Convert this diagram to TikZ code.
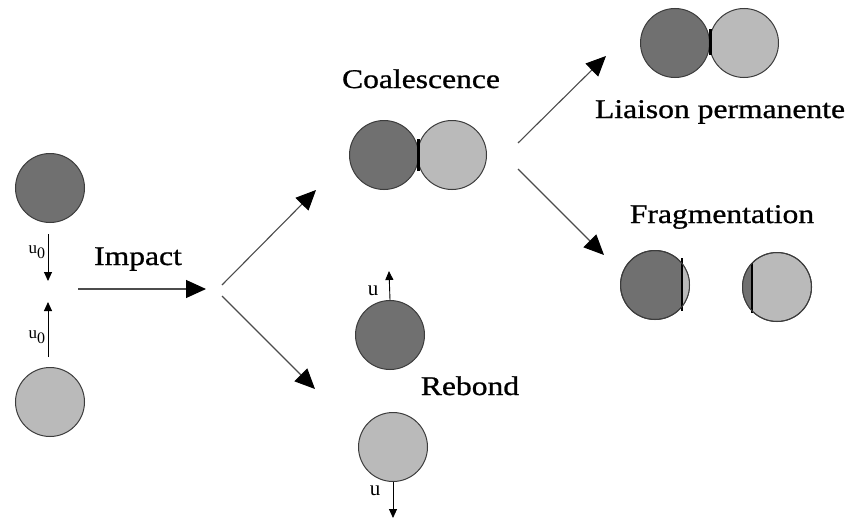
\documentclass[tikz,border=0pt]{standalone}
\usepackage{fontspec}
\setmainfont{Liberation Serif}
\newfontfamily\lblfont{Liberation Serif}[FakeBold=0.8]
\usetikzlibrary{arrows.meta}
\definecolor{dgray}{RGB}{112,112,112}
\definecolor{lgray}{RGB}{186,186,186}
\definecolor{edgec}{RGB}{60,60,60}
\begin{document}
\begin{tikzpicture}[x=1pt,y=-1pt,
  drop/.style={circle,draw=edgec,line width=1pt,minimum size=69pt,inner sep=0pt},
  darkdrop/.style={drop,fill=dgray},
  lightdrop/.style={drop,fill=lgray},
  bigarrow/.style={draw=black!70,line width=1.1pt,-{Triangle[length=20pt,width=18pt,black]}},
  smallarrow/.style={draw=black,line width=0.9pt,-{Triangle[length=9pt,width=8pt]}},
  lbl/.style={font=\lblfont\fontsize{27}{29}\selectfont,inner sep=0pt,anchor=base,xscale=1.17,transform shape},
  vlbl/.style={font=\fontsize{17}{18}\selectfont,inner sep=0pt},
  ulbl/.style={font=\fontsize{21}{22}\selectfont,inner sep=0pt}]
\useasboundingbox (0,0) rectangle (848,522);
\fill[white] (0,0) rectangle (848,522);
% left drops
\node[darkdrop] (d1) at (50,188) {};
\node[lightdrop] (d2) at (50,402) {};
\coordinate (a1s) at (48,234);
\coordinate (a1e) at (48,281);
\coordinate (a2s) at (48,357);
\coordinate (a2e) at (48,302);
\draw[smallarrow] (a1s) -- (a1e);
\draw[smallarrow] (a2s) -- (a2e);
\node[vlbl] (u01) at (37,252) {u$_{\mbox{\fontsize{16}{17}\selectfont 0}}$};
\node[vlbl] (u02) at (37,337) {u$_{\mbox{\fontsize{16}{17}\selectfont 0}}$};
% impact
\coordinate (is) at (78,289);
\coordinate (ie) at (206,289);
\draw[bigarrow] (is) -- (ie);
\node[lbl] (impact) at (138,265) {Impact};
% branch arrows
\coordinate (b0a) at (222,285);
\coordinate (b0b) at (222,296);
\coordinate (b1) at (316,190);
\coordinate (b2) at (315,389);
\draw[bigarrow] (b0a) -- (b1);
\draw[bigarrow] (b0b) -- (b2);
% coalescence
\node[lbl] (coal) at (421,88) {Coalescence};
\node[darkdrop] (c1) at (384,155) {};
\node[lightdrop] (c2) at (452,155) {};
\fill[black] (416.5,139) rectangle (420,171);
\coordinate (c3s) at (518,143);
\coordinate (c3e) at (606,56);
\coordinate (c4s) at (518,169);
\coordinate (c4e) at (604,255);
\draw[bigarrow] (c3s) -- (c3e);
\draw[bigarrow] (c4s) -- (c4e);
% liaison permanente
\node[darkdrop] (l1) at (675,43) {};
\node[lightdrop] (l2) at (744,43) {};
\fill[black] (708.5,29) rectangle (712,55);
\node[lbl] (liaison) at (720,118) {Liaison permanente};
% fragmentation
\node[lbl] (frag) at (722,223) {Fragmentation};
\node[darkdrop] (f1) at (655,285) {};
\begin{scope}
  \clip (655,285) circle (34.5);
  \fill[lgray] (682,240) rectangle (700,330);
\end{scope}
\draw[black,line width=1.3pt] (682,258) -- (682,311);
\draw[edgec,line width=1pt] (655,285) circle (34.5);
\node[lightdrop] (f2) at (777,287) {};
\begin{scope}
  \clip (777,287) circle (34.5);
  \fill[dgray] (730,240) rectangle (752,330);
\end{scope}
\draw[black,line width=1.3pt] (752,263) -- (752,313);
\draw[edgec,line width=1pt] (777,287) circle (34.5);
% rebond
\node[darkdrop] (r1) at (390,335) {};
\node[lightdrop] (r2) at (393,447) {};
\coordinate (r1e) at (389,271);
\coordinate (r2e) at (393,518);
\draw[smallarrow] (r1.north) -- (r1e);
\draw[smallarrow] (r2.south) -- (r2e);
\node[ulbl] (u1) at (373,291) {u};
\node[ulbl] (u2) at (375,491) {u};
\node[lbl] (rebond) at (470,395) {Rebond};
\end{tikzpicture}
\end{document}
